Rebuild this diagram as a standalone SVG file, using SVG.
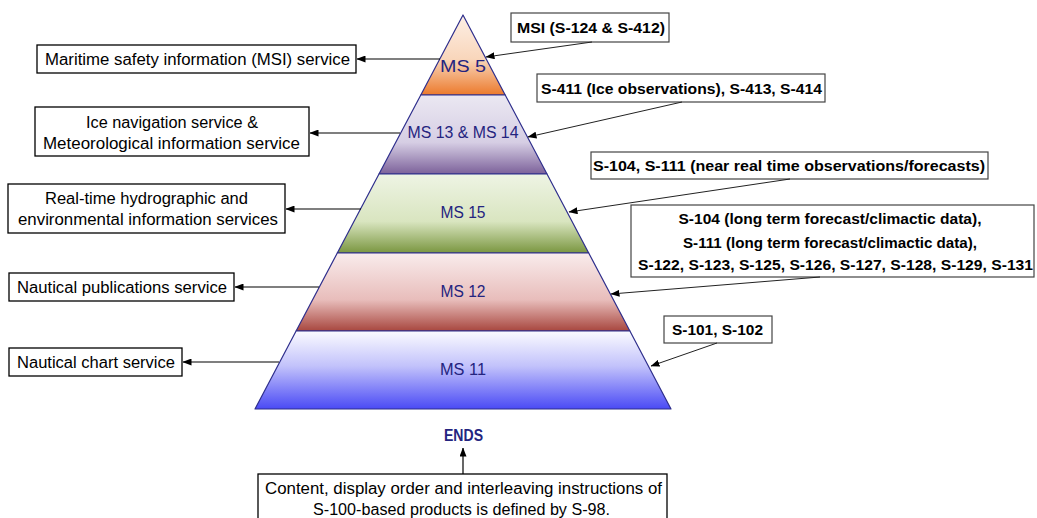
<svg xmlns="http://www.w3.org/2000/svg" width="1037" height="518" viewBox="0 0 1037 518">
<style>
.lbox{fill:#fff;stroke:#000;stroke-width:1.3}
.rbox{fill:#fff;stroke:#444;stroke-width:1.2}
.lt{font-family:"Liberation Sans",Arial,sans-serif;font-size:16px;fill:#000;text-anchor:middle}
.rt{font-family:"Liberation Sans",Arial,sans-serif;font-size:15.5px;font-weight:bold;fill:#000;text-anchor:middle}
.pt{font-family:"Liberation Sans",Arial,sans-serif;font-size:16px;fill:#24247f;text-anchor:middle}
.band{stroke:#2e2e8c;stroke-width:1.2;stroke-linejoin:round}
.la{stroke:#000;stroke-width:1.2;fill:none}
.ra{stroke:#222;stroke-width:1;fill:none}
</style>
<defs>
<marker id="ah" markerUnits="userSpaceOnUse" markerWidth="9" markerHeight="7" refX="8.5" refY="3.5" orient="auto"><path d="M0,0 L9,3.5 L0,7 z" fill="#000"/></marker>
<linearGradient id="g5" x1="0" y1="0" x2="0" y2="1"><stop offset="0" stop-color="#fdf0e6"/><stop offset="0.55" stop-color="#f9d6bb"/><stop offset="1" stop-color="#ec7a2c"/></linearGradient>
<linearGradient id="g13" x1="0" y1="0" x2="0" y2="1"><stop offset="0" stop-color="#ebe8f2"/><stop offset="0.6" stop-color="#d6cee4"/><stop offset="1" stop-color="#7c619a"/></linearGradient>
<linearGradient id="g15" x1="0" y1="0" x2="0" y2="1"><stop offset="0" stop-color="#eef4e4"/><stop offset="0.6" stop-color="#d9e5c0"/><stop offset="1" stop-color="#7a9640"/></linearGradient>
<linearGradient id="g12" x1="0" y1="0" x2="0" y2="1"><stop offset="0" stop-color="#f9ecec"/><stop offset="0.6" stop-color="#e8bdbb"/><stop offset="1" stop-color="#a8473f"/></linearGradient>
<linearGradient id="g11" x1="0" y1="0" x2="0" y2="1"><stop offset="0" stop-color="#fbfbff"/><stop offset="0.45" stop-color="#c2c2fb"/><stop offset="1" stop-color="#4a4af5"/></linearGradient>
</defs>
<rect width="1037" height="518" fill="#fff"/>

<g id="pyramid">
<g id="ms5"><polygon class="band" fill="url(#g5)" points="463,15 505.2,95 420.8,95"/><text class="pt" x="463" y="72" textLength="46" lengthAdjust="spacingAndGlyphs">MS 5</text></g>
<g id="ms13-14"><polygon class="band" fill="url(#g13)" points="420.8,95 505.2,95 547,174 379,174"/><text class="pt" x="463" y="138" textLength="111" lengthAdjust="spacingAndGlyphs">MS 13 &amp; MS 14</text></g>
<g id="ms15"><polygon class="band" fill="url(#g15)" points="379,174 547,174 588.7,253 337.3,253"/><text class="pt" x="463" y="218" textLength="45" lengthAdjust="spacingAndGlyphs">MS 15</text></g>
<g id="ms12"><polygon class="band" fill="url(#g12)" points="337.3,253 588.7,253 629.9,331 296.1,331"/><text class="pt" x="463" y="297" textLength="45" lengthAdjust="spacingAndGlyphs">MS 12</text></g>
<g id="ms11"><polygon class="band" fill="url(#g11)" points="296.1,331 629.9,331 671,409 255,409"/><text class="pt" x="463" y="375" textLength="46" lengthAdjust="spacingAndGlyphs">MS 11</text></g>
</g>

<g id="ends"><text class="pt" x="463.5" y="441" font-weight="bold" textLength="39" lengthAdjust="spacingAndGlyphs">ENDS</text></g>

<g id="svc-msi"><rect class="lbox" x="37" y="45" width="319" height="28"/><text class="lt" x="197.5" y="64.5" textLength="305" lengthAdjust="spacingAndGlyphs">Maritime safety information (MSI) service</text></g>
<g id="svc-ice"><rect class="lbox" x="35" y="107" width="274" height="49"/><text class="lt" x="172" y="127.5" textLength="172" lengthAdjust="spacingAndGlyphs">Ice navigation service &amp;</text><text class="lt" x="171.5" y="148.5" textLength="257" lengthAdjust="spacingAndGlyphs">Meteorological information service</text></g>
<g id="svc-rt"><rect class="lbox" x="8" y="184" width="277" height="49"/><text class="lt" x="146.5" y="203.5" textLength="203" lengthAdjust="spacingAndGlyphs">Real-time hydrographic and</text><text class="lt" x="148" y="224.5" textLength="260" lengthAdjust="spacingAndGlyphs">environmental information services</text></g>
<g id="svc-pub"><rect class="lbox" x="9" y="273" width="225" height="28"/><text class="lt" x="122" y="292.5" textLength="210" lengthAdjust="spacingAndGlyphs">Nautical publications service</text></g>
<g id="svc-chart"><rect class="lbox" x="9" y="348" width="173" height="28"/><text class="lt" x="96" y="367.5" textLength="158" lengthAdjust="spacingAndGlyphs">Nautical chart service</text></g>

<g id="prod-msi"><rect class="rbox" x="511" y="13" width="158" height="29"/><text class="rt" x="591" y="33" textLength="148" lengthAdjust="spacingAndGlyphs">MSI (S-124 &amp; S-412)</text></g>
<g id="prod-ice"><rect class="rbox" x="537" y="74" width="288" height="28"/><text class="rt" x="681.5" y="93.5" textLength="281" lengthAdjust="spacingAndGlyphs">S-411 (Ice observations), S-413, S-414</text></g>
<g id="prod-rt"><rect class="rbox" x="591" y="152" width="397" height="27"/><text class="rt" x="789" y="171" textLength="392" lengthAdjust="spacingAndGlyphs">S-104, S-111 (near real time observations/forecasts)</text></g>
<g id="prod-pub"><rect class="rbox" x="631" y="205" width="403" height="72"/><text class="rt" x="830" y="223.5" textLength="303" lengthAdjust="spacingAndGlyphs">S-104 (long term forecast/climactic data),</text><text class="rt" x="830" y="247.5" textLength="294" lengthAdjust="spacingAndGlyphs">S-111 (long term forecast/climactic data),</text><text class="rt" x="835.5" y="270" textLength="395" lengthAdjust="spacingAndGlyphs">S-122, S-123, S-125, S-126, S-127, S-128, S-129, S-131</text></g>
<g id="prod-chart"><rect class="rbox" x="664" y="316" width="108" height="27"/><text class="rt" x="717.5" y="335" textLength="91" lengthAdjust="spacingAndGlyphs">S-101, S-102</text></g>

<g id="s98"><rect class="lbox" x="258" y="474" width="409" height="60"/><text class="lt" x="463.5" y="493.5" textLength="397" lengthAdjust="spacingAndGlyphs">Content, display order and interleaving instructions of</text><text class="lt" x="461.5" y="514.5" textLength="297" lengthAdjust="spacingAndGlyphs">S-100-based products is defined by S-98.</text></g>

<g id="connectors">
<line class="la" x1="440" y1="59" x2="357" y2="59" marker-end="url(#ah)"/>
<line class="la" x1="400" y1="133" x2="310" y2="133" marker-end="url(#ah)"/>
<line class="la" x1="361" y1="209" x2="286" y2="209" marker-end="url(#ah)"/>
<line class="la" x1="319" y1="287" x2="235" y2="287" marker-end="url(#ah)"/>
<line class="la" x1="279" y1="362" x2="183" y2="362" marker-end="url(#ah)"/>
<line class="ra" x1="592" y1="42" x2="486" y2="57" marker-end="url(#ah)"/>
<line class="ra" x1="682" y1="102" x2="528" y2="137" marker-end="url(#ah)"/>
<line class="ra" x1="790" y1="179" x2="569" y2="212" marker-end="url(#ah)"/>
<line class="ra" x1="820" y1="277" x2="611" y2="294" marker-end="url(#ah)"/>
<line class="ra" x1="717" y1="343" x2="651" y2="366" marker-end="url(#ah)"/>
<line class="la" x1="463" y1="474" x2="463" y2="448" marker-end="url(#ah)"/>
</g>
</svg>
